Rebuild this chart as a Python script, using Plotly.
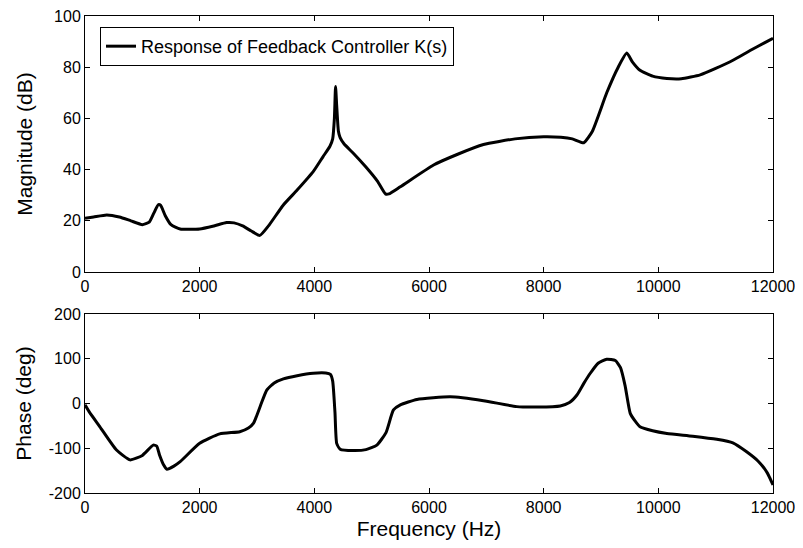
import plotly.graph_objects as go
from plotly.subplots import make_subplots

# magnitude response
freq_mag = [0, 150, 380, 600, 800, 1000, 1120, 1200, 1280, 1320, 1400, 1500, 1660,
            2000, 2250, 2470, 2600, 2750, 2900, 3050, 3200, 3460, 3700, 3980, 4150,
            4270, 4320, 4350, 4370, 4390, 4420, 4450, 4520, 4680, 4900, 5100, 5240,
            5300, 5500, 6080, 6500, 6950, 7500, 8000, 8300, 8500, 8700, 8850, 9100,
            9300, 9450, 9550, 9680, 9900, 10150, 10400, 10730, 11000, 11310, 11600,
            11850, 12000]
mag_db = [21, 21.5, 22.3, 21.5, 20, 18.5, 19.5, 23, 26.3, 26, 22, 18.5, 16.8,
          16.8, 18, 19.3, 19.2, 18, 16, 14.3, 18, 26.2, 32, 39.2, 45, 49, 52, 60,
          72.5, 65, 55, 52.5, 50, 46.4, 41, 35.5, 30.5, 30.5, 33.3, 41.8, 46, 49.8,
          52, 52.8, 52.6, 52, 50.5, 55, 70, 80, 85.5, 82, 78.8, 76.5, 75.6, 75.5,
          77, 79.5, 82.8, 86.5, 89.5, 91.3]

# phase response
freq_ph = [0, 80, 260, 550, 785, 1000, 1190, 1250, 1300, 1370, 1430, 1550, 1660,
           2000, 2350, 2700, 2850, 2940, 3060, 3170, 3300, 3460, 3700, 3980, 4200,
           4280, 4320, 4360, 4390, 4450, 4680, 4900, 5090, 5250, 5380, 5500, 5790,
           6370, 6950, 7530, 7900, 8290, 8450, 8580, 8700, 8810, 8950, 9100, 9250,
           9340, 9420, 9510, 9600, 9680, 9900, 10150, 10600, 11020, 11300, 11540,
           11750, 11900, 12000]
phase_deg = [-3, -20, -52, -104, -126, -116, -93, -95, -115, -137, -147, -140, -130,
             -89, -68, -63, -55, -44, -5, 30, 46, 55, 62, 67.5, 68, 65, 50, -20,
             -89, -102, -105, -103, -93, -65, -14.5, -3, 9, 15, 6.3, -7, -8, -5.6, 2,
             19, 45, 67, 90, 98.7, 96, 80, 40, -22, -40, -52, -61, -67, -73, -80,
             -88, -108, -130, -155, -182]

freq_ticks = [0, 2000, 4000, 6000, 8000, 10000, 12000]
mag_ticks = [0, 20, 40, 60, 80, 100]
phase_ticks = [-200, -100, 0, 100, 200]

fig = make_subplots(rows=2, cols=1)

fig.add_trace(go.Scatter(x=freq_mag, y=mag_db, mode="lines",
                         name="Response of Feedback Controller K(s)",
                         line=dict(color="black", width=3, shape="spline", smoothing=0.5)),
              row=1, col=1)
fig.add_trace(go.Scatter(x=freq_ph, y=phase_deg, mode="lines", showlegend=False,
                         line=dict(color="black", width=3, shape="spline", smoothing=0.5)),
              row=2, col=1)

axis_style = dict(showline=True, linecolor="black", linewidth=1, mirror="ticks",
                  ticks="inside", ticklen=5, tickcolor="black", showgrid=False,
                  zeroline=False, automargin=False, ticklabeloverflow="allow",
                  tickfont=dict(size=16, color="black"))
title_font = dict(size=21, color="black")

fig.update_xaxes(range=[0, 12000], tickvals=freq_ticks,
                 ticktext=[str(t) for t in freq_ticks], **axis_style)
fig.update_xaxes(domain=[0, 1], row=1, col=1)
fig.update_xaxes(domain=[0, 1], row=2, col=1,
                 title=dict(text="Frequency (Hz)", font=title_font, standoff=6))
fig.update_yaxes(range=[0, 100], tickvals=mag_ticks, ticktext=[str(t) for t in mag_ticks],
                 domain=[0.4633, 1],
                 title=dict(text="Magnitude (dB)", font=title_font, standoff=15),
                 row=1, col=1, **axis_style)
fig.update_yaxes(range=[-200, 200], tickvals=phase_ticks,
                 ticktext=[str(t) for t in phase_ticks], domain=[0, 0.3753],
                 title=dict(text="Phase (deg)", font=title_font, standoff=11),
                 row=2, col=1, **axis_style)

# the page body has an 8px margin, so the figure is 8px smaller than the window
fig.update_layout(
    width=795, height=540,
    margin=dict(l=77, r=30, t=8, b=55),
    paper_bgcolor="white", plot_bgcolor="white",
    font=dict(family="Liberation Sans, Arial, sans-serif", color="black"),
    showlegend=True,
    legend=dict(x=0.0218, y=0.977, xanchor="left", yanchor="top",
                bgcolor="white", bordercolor="black", borderwidth=1,
                font=dict(size=18, color="black"), tracegroupgap=0),
)

fig.write_html("out.html")
